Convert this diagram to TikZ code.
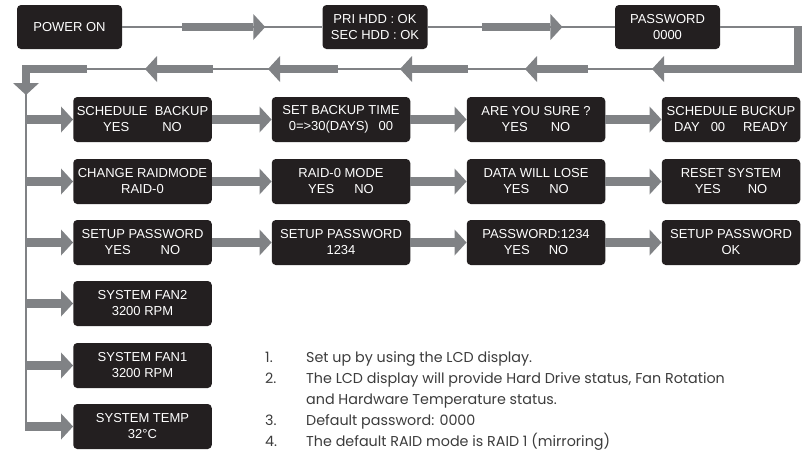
\documentclass[tikz,border=0pt]{standalone}
\usepackage{fontspec}
\setmainfont{Liberation Sans}
\newfontfamily\notefont{Poppins}
\usetikzlibrary{arrows.meta,calc}

\definecolor{lcdblack}{RGB}{35,31,32}
\definecolor{flowgray}{RGB}{128,130,133}
\definecolor{notegray}{RGB}{60,60,60}

\newcommand\lcdfont{\fontsize{13}{16}\selectfont}

\tikzset{
  lcd/.style={fill=lcdblack, rounded corners=4pt, text=white, align=center,
    font=\lcdfont, inner sep=0pt},
  topbox/.style={lcd, minimum width=105pt, minimum height=44pt},
  menubox/.style={lcd, minimum width=138.5pt, minimum height=45pt},
  wire/.style={draw=flowgray, line width=2.5pt},
  flow/.style={draw=flowgray, line width=8.5pt,
    -{Triangle[width=26pt,length=12pt,line width=0pt]}},
}

\begin{document}
\begin{tikzpicture}[x=1pt,y=-1pt]
\useasboundingbox (0,0) rectangle (811,461);

% start up screens
\node[topbox] (pwr) at (69.5,27) {POWER ON};
\node[topbox] (hdd) at (375,27) {PRI HDD : OK\\SEC HDD : OK};
\node[topbox] (pwd) at (667.5,27) {PASSWORD\\0000};

\draw[wire] (pwr) -- (hdd);
\draw[flow] ($(pwr.east)!0.30!(hdd.west)$) -- ($(pwr.east)!0.715!(hdd.west)$);
\draw[wire] (hdd) -- (pwd);
\draw[flow] ($(hdd.east)!0.29!(pwd.west)$) -- ($(hdd.east)!0.72!(pwd.west)$);

% way back to the menu
\coordinate (turn) at (798,69);
\coordinate (back) at (26,69);
\coordinate (down) at (26,95);
\draw[wire] (pwd.east) -- (pwd.east -| turn);
\draw[wire] (turn) -- (back);
\draw[flow] ($(pwd.east -| turn)+(0,-1)$) -- (turn) -- (652,69);
\foreach \from/\to in {588/525, 468/400, 338/268, 213/145}
  \draw[flow] (\from,69) -- (\to,69);
\draw[flow] (87,69) -- (back) -- (down);

% menu screens
\node[menubox] (sched) at (142.5,119.5) {SCHEDULE\ \ BACKUP\\YES\hspace{33pt}NO};
\node[menubox] (settime) at (341,119.5) {SET BACKUP TIME\\0=>30(DAYS)\hspace{10pt}00};
\node[menubox] (sure) at (536,119.5) {ARE YOU SURE ?\\YES\hspace{23pt}NO};
\node[menubox] (ready) at (731,119.5) {SCHEDULE BUCKUP\\DAY\hspace{11pt}00\hspace{18pt}READY};

\node[menubox] (raid) at (142.5,181.5) {CHANGE RAIDMODE\\RAID-0};
\node[menubox] (raidmode) at (341,181.5) {RAID-0 MODE\\YES\hspace{20pt}NO};
\node[menubox] (lose) at (536,181.5) {DATA WILL LOSE\\YES\hspace{20pt}NO};
\node[menubox] (reset) at (731,181.5) {RESET SYSTEM\\YES\hspace{27pt}NO};

\node[menubox] (setpw) at (142.5,242.5) {SETUP PASSWORD\\YES\hspace{30pt}NO};
\node[menubox] (newpw) at (341,242.5) {SETUP PASSWORD\\1234};
\node[menubox] (confirm) at (536,242.5) {PASSWORD:1234\\YES\hspace{19pt}NO};
\node[menubox] (pwok) at (731,242.5) {SETUP PASSWORD\\OK};

\node[menubox] (fantwo) at (142.5,303.5) {SYSTEM FAN2\\3200 RPM};
\node[menubox] (fanone) at (142.5,365.5) {SYSTEM FAN1\\3200 RPM};
\node[menubox] (temp) at (142.5,426.5) {SYSTEM TEMP\\32°C};

% rows
\draw[flow] (sched) -- (settime);
\draw[flow] (settime) -- (sure);
\draw[flow] (sure) -- (ready);
\draw[flow] (raid) -- (raidmode);
\draw[flow] (raidmode) -- (lose);
\draw[flow] (lose) -- (reset);
\draw[flow] (setpw) -- (newpw);
\draw[flow] (newpw) -- (confirm);
\draw[flow] (confirm) -- (pwok);

% left bus
\draw[wire] ($(down)+(0,-4)$) -- (temp.west -| down);
\foreach \screen in {sched,raid,setpw,fantwo,fanone,temp}
  \draw[flow] ($(\screen.west -| down)+(-1.25,0)$) -- (\screen.west);

% notes
\node[anchor=north west, inner sep=0pt, text=notegray,
  font={\notefont\fontsize{14.3}{21}\selectfont}] (notes) at (265,347.3) {%
  \begin{tabular}{@{}p{41pt}@{}l@{}}
  1. & Set up by using the LCD display.\\
  2. & The LCD display will provide Hard Drive status, Fan Rotation\\
     & and Hardware Temperature status.\\
  3. & Default password: 0000\\
  4. & The default RAID mode is RAID 1 (mirroring)
  \end{tabular}};

\end{tikzpicture}
\end{document}
